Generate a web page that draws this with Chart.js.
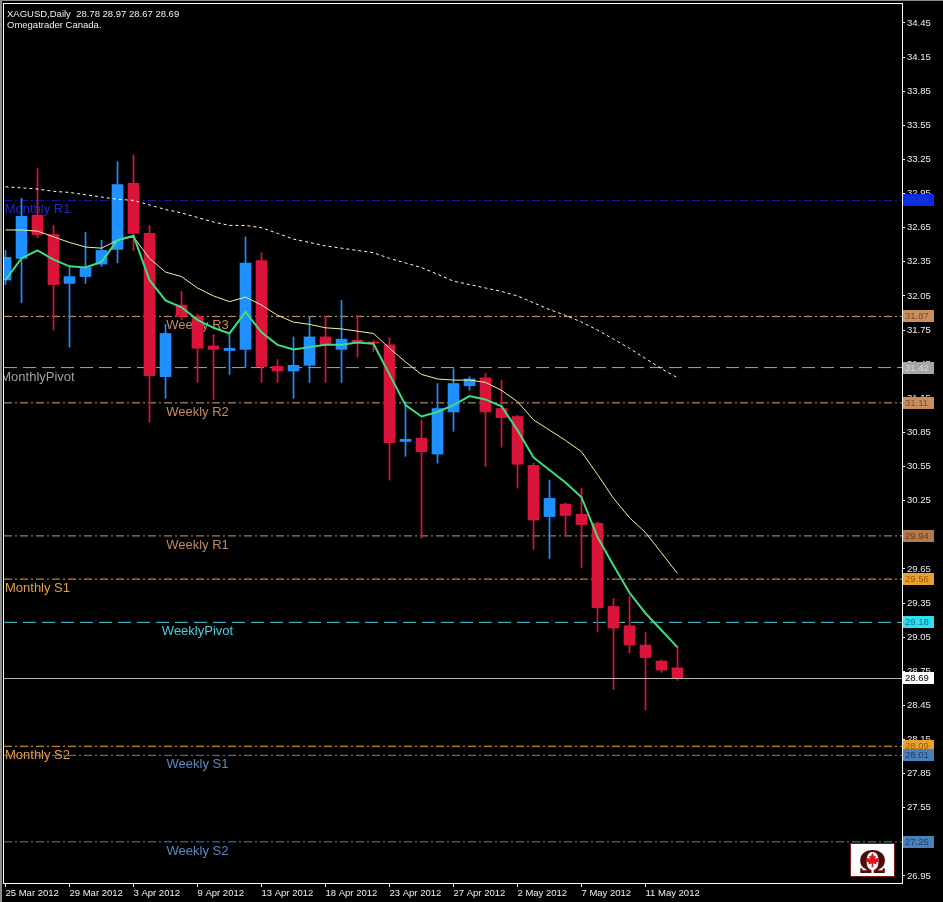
<!DOCTYPE html>
<html>
<head>
<meta charset="utf-8">
<title>XAGUSD Daily</title>
<script src="https://cdn.jsdelivr.net/npm/chart.js@4.4.1/dist/chart.umd.min.js"></script>
<style>
    html, body { margin: 0; padding: 0; background: #000; }
    #wrap { width: 943px; height: 902px; }
</style>
</head>
<body>
<div id="wrap"><canvas id="silverChart" width="943" height="902"></canvas></div>
<script>
// ===== DATA =====
const candleDates = [
    '25 Mar 2012', '26 Mar 2012', '27 Mar 2012', '28 Mar 2012', '29 Mar 2012', '30 Mar 2012',
    '1 Apr 2012', '2 Apr 2012', '3 Apr 2012', '4 Apr 2012', '5 Apr 2012', '8 Apr 2012',
    '9 Apr 2012', '10 Apr 2012', '11 Apr 2012', '12 Apr 2012', '13 Apr 2012', '15 Apr 2012',
    '16 Apr 2012', '17 Apr 2012', '18 Apr 2012', '19 Apr 2012', '20 Apr 2012', '22 Apr 2012',
    '23 Apr 2012', '24 Apr 2012', '25 Apr 2012', '26 Apr 2012', '27 Apr 2012', '29 Apr 2012',
    '30 Apr 2012', '1 May 2012', '2 May 2012', '3 May 2012', '4 May 2012', '6 May 2012',
    '7 May 2012', '8 May 2012', '9 May 2012', '10 May 2012', '11 May 2012', '13 May 2012',
    '14 May 2012'
];

const opens = [
    32.19, 32.38, 32.76, 32.59, 32.16, 32.22, 32.33, 32.46, 33.04, 32.60, 31.34,
    31.97, 31.87, 31.61, 31.57, 31.58, 32.36, 31.43, 31.39, 31.44, 31.69, 31.58,
    31.66, 31.645, 31.62, 30.77, 30.80, 30.66, 31.03, 31.26, 31.33, 31.06, 30.99,
    30.56, 30.11, 30.22, 30.13, 30.05, 29.32, 29.15, 28.98, 28.84, 28.78
];
const highs = [
    32.45, 32.91, 33.17, 32.67, 32.30, 32.61, 32.54, 33.23, 33.29, 32.67, 31.80,
    32.09, 31.89, 31.71, 31.71, 32.57, 32.43, 31.49, 31.69, 31.87, 31.87, 32.01,
    31.88, 31.66, 31.68, 31.12, 30.96, 31.28, 31.41, 31.34, 31.37, 31.31, 31.00,
    30.58, 30.43, 30.23, 30.36, 30.06, 29.39, 29.41, 29.09, 28.85, 28.97
];
const lows = [
    32.15, 31.99, 32.56, 31.75, 31.60, 32.16, 32.31, 32.34, 32.45, 30.94, 31.15,
    31.84, 31.29, 31.14, 31.36, 31.42, 31.29, 31.29, 31.15, 31.29, 31.29, 31.29,
    31.51, 31.56, 30.43, 30.64, 29.92, 30.58, 30.86, 31.22, 30.55, 30.72, 30.36,
    29.82, 29.74, 29.94, 29.66, 29.10, 28.59, 28.91, 28.41, 28.74, 28.67
];
const closes = [
    32.39, 32.75, 32.59, 32.15, 32.22, 32.30, 32.45, 33.03, 32.60, 31.35, 31.72,
    31.87, 31.59, 31.58, 31.59, 32.34, 31.43, 31.39, 31.44, 31.69, 31.62, 31.67,
    31.64, 31.635, 30.76, 30.79, 30.68, 31.06, 31.28, 31.32, 31.03, 30.98, 30.57,
    30.08, 30.27, 30.12, 30.04, 29.31, 29.13, 28.98, 28.87, 28.76, 28.69
];

// moving averages (green fast, yellow mid, white dotted slow)
const fastMa = [
    32.19, 32.38, 32.45, 32.37, 32.31, 32.30, 32.35, 32.54, 32.58, 32.19, 32.01,
    31.95, 31.84, 31.77, 31.72, 31.91, 31.73, 31.62, 31.58, 31.60, 31.62, 31.62,
    31.64, 31.63, 31.36, 31.09, 30.99, 31.03, 31.09, 31.17, 31.14, 31.08, 30.87,
    30.63, 30.52, 30.41, 30.28, 29.93, 29.68, 29.44, 29.26, 29.11, 28.96
];
const midMa = [
    32.63, 32.63, 32.62, 32.57, 32.52, 32.48, 32.47, 32.54, 32.57, 32.38, 32.26,
    32.22, 32.12, 32.05, 32.00, 32.04, 31.97, 31.88, 31.82, 31.80, 31.77, 31.76,
    31.74, 31.72, 31.59, 31.47, 31.36, 31.32, 31.31, 31.31, 31.29, 31.22, 31.12,
    30.96, 30.87, 30.78, 30.68, 30.48, 30.27, 30.10, 29.97, 29.79, 29.61
];
const slowMa = [
    33.01, 33.00, 32.99, 32.97, 32.96, 32.94, 32.92, 32.90, 32.89, 32.85, 32.81,
    32.78, 32.74, 32.70, 32.67, 32.67, 32.65, 32.60, 32.55, 32.52, 32.49, 32.47,
    32.45, 32.43, 32.38, 32.34, 32.30, 32.24, 32.18, 32.15, 32.12, 32.09, 32.05,
    31.99, 31.93, 31.88, 31.82, 31.75, 31.67, 31.59, 31.50, 31.41, 31.33
];

// pivot levels
const levelNames = ['Monthly R1', 'Weekly R3', 'MonthlyPivot', 'Weekly R2', 'Weekly R1',
    'Monthly S1', 'WeeklyPivot', 'Monthly S2', 'Weekly S1', 'Weekly S2'];
const levelPrices = [32.89, 31.87, 31.42, 31.11, 29.94, 29.56, 29.18, 28.09, 28.01, 27.25];

const lastPrice = 28.69;

// axis labels
const dateTickIdx = [0, 4, 8, 12, 16, 20, 24, 28, 32, 36, 40];
const priceTicks = [26.95, 27.25, 27.55, 27.85, 28.15, 28.45, 28.75, 29.05, 29.35, 29.65,
    29.95, 30.25, 30.55, 30.85, 31.15, 31.45, 31.75, 32.05, 32.35, 32.65, 32.95, 33.25,
    33.55, 33.85, 34.15, 34.45];

// ===== STYLES =====
const bullColor = '#1e90ff';
const bearColor = '#dc143c';
const dashDot = [8, 3, 2, 3];
const longDash = [13, 6];

const levelStyle = {
    'Monthly R1':   { line: '#1616b8', label: '#2028c4', tag: '#0c2ae6', tagText: '#1a3cc8', dash: dashDot, at: 2 },
    'Weekly R3':    { line: '#c9a07c', label: '#c28a60', tag: '#c88e5e', tagText: '#8a4a20', dash: dashDot, at: 12 },
    'MonthlyPivot': { line: '#a8a8a8', label: '#a0a0a0', tag: '#a6a6a6', tagText: '#d8d8d8', dash: longDash, at: 2 },
    'Weekly R2':    { line: '#c9a07c', label: '#c28a60', tag: '#c88e5e', tagText: '#8a4a20', dash: dashDot, at: 12 },
    'Weekly R1':    { line: '#c9a07c', label: '#c28a60', tag: '#b27a50', tagText: '#6a3a18', dash: dashDot, at: 12 },
    'Monthly S1':   { line: '#e8a040', label: '#e8a040', tag: '#e8a030', tagText: '#9a5a00', dash: dashDot, at: 2 },
    'WeeklyPivot':  { line: '#48d0e0', label: '#48d0e0', tag: '#30e0f0', tagText: '#007c8c', dash: longDash, at: 12 },
    'Monthly S2':   { line: '#e8a040', label: '#e8a040', tag: '#e8a030', tagText: '#9a5a00', dash: dashDot, at: 2 },
    'Weekly S1':    { line: '#5080b0', label: '#5a88c0', tag: '#4a80b8', tagText: '#1e3e6e', dash: dashDot, at: 12 },
    'Weekly S2':    { line: '#5080b0', label: '#5a88c0', tag: '#4a80b8', tagText: '#1e3e6e', dash: dashDot, at: 12 }
};

const xMin = -0.09375;
const xMax = 56.03125;
const yMin = 26.888;
const yMax = 34.617;
const uiFont = '"Liberation Sans", Arial, sans-serif';

const candleColor = c => closes[c.dataIndex] >= opens[c.dataIndex] ? bullColor : bearColor;

// level lines as two-point line datasets
const levelDatasets = levelNames.map((name, i) => ({
    type: 'line',
    data: [{ x: xMin, y: levelPrices[i] }, { x: xMax, y: levelPrices[i] }],
    borderColor: levelStyle[name].line,
    borderWidth: 1,
    borderDash: levelStyle[name].dash,
    pointRadius: 0,
    order: 5
}));

// ===== PLUGINS =====
const mtBackground = {
    id: 'mtBackground',
    beforeDraw(chart) {
        const { ctx, width, height } = chart;
        ctx.save();
        ctx.fillStyle = '#000';
        ctx.fillRect(0, 0, width, height);
        ctx.fillStyle = '#8c8c8c';
        ctx.fillRect(0, 0, width, 1);
        ctx.fillRect(0, 0, 2, height);
        ctx.restore();
    }
};

// pivot names sit under their line, behind the candles
const levelLabels = {
    id: 'levelLabels',
    beforeDatasetsDraw(chart) {
        const { ctx, chartArea } = chart;
        const xs = chart.scales.x, ys = chart.scales.y;
        ctx.save();
        ctx.beginPath();
        ctx.rect(chartArea.left, chartArea.top, chartArea.width, chartArea.height);
        ctx.clip();
        ctx.font = '13px ' + uiFont;
        ctx.textAlign = 'center';
        ctx.textBaseline = 'top';
        levelNames.forEach((name, i) => {
            const st = levelStyle[name];
            ctx.fillStyle = st.label;
            ctx.fillText(name, xs.getPixelForValue(st.at), ys.getPixelForValue(levelPrices[i]) + 3);
        });
        ctx.restore();
    }
};

function drawTag(ctx, ys, price, fill, textColor, left) {
    const y = Math.round(ys.getPixelForValue(price));
    ctx.fillStyle = fill;
    ctx.fillRect(left + 1, y - 6, 31, 12);
    ctx.fillStyle = textColor;
    ctx.fillText(price.toFixed(2), left + 3, y + 0.5);
}

const mtOverlay = {
    id: 'mtOverlay',
    afterDraw(chart) {
        const { ctx, chartArea } = chart;
        const ys = chart.scales.y;
        const last = closes.length - 1;
        ctx.save();

        // header
        ctx.fillStyle = '#f0f0f0';
        ctx.font = '9.5px ' + uiFont;
        ctx.textAlign = 'left';
        ctx.textBaseline = 'alphabetic';
        ctx.fillText('XAGUSD,Daily  ' + [opens[last], highs[last], lows[last], closes[last]]
            .map(v => v.toFixed(2)).join(' '), 7, 17);
        ctx.fillText('Omegatrader Canada.', 7, 28);

        // current price line
        ctx.save();
        ctx.beginPath();
        ctx.rect(chartArea.left, chartArea.top, chartArea.width, chartArea.height);
        ctx.clip();
        const yLast = Math.round(ys.getPixelForValue(lastPrice)) + 0.5;
        ctx.strokeStyle = '#b4b4b4';
        ctx.lineWidth = 1;
        ctx.beginPath();
        ctx.moveTo(chartArea.left, yLast);
        ctx.lineTo(chartArea.right, yLast);
        ctx.stroke();
        ctx.restore();

        // price tags on the right axis
        ctx.font = '9.5px ' + uiFont;
        ctx.textBaseline = 'middle';
        levelNames.forEach((name, i) => {
            const st = levelStyle[name];
            drawTag(ctx, ys, levelPrices[i], st.tag, st.tagText, chartArea.right);
        });
        drawTag(ctx, ys, lastPrice, '#ffffff', '#000000', chartArea.right);

        // logo
        const lx = chartArea.right - 52, ly = chartArea.bottom - 40;
        ctx.fillStyle = '#ffffff';
        ctx.fillRect(lx, ly, 45, 34);
        ctx.strokeStyle = '#7a1a1a';
        ctx.strokeRect(lx + 0.5, ly + 0.5, 44, 33);
        ctx.fillStyle = '#4a0c0c';
        ctx.font = 'bold 31px "DejaVu Serif", serif';
        ctx.textAlign = 'center';
        ctx.textBaseline = 'alphabetic';
        ctx.fillText('\u03A9', lx + 22.5, ly + 30);
        const leaf = [[0, -8], [2, -4], [4, -5], [3, -1], [7, -3], [6, 0], [8, 1], [4, 3], [5, 5],
            [1, 4], [1, 8], [-1, 8], [-1, 4], [-5, 5], [-4, 3], [-8, 1], [-6, 0], [-7, -3],
            [-3, -1], [-4, -5], [-2, -4]];
        ctx.fillStyle = '#e01020';
        ctx.beginPath();
        leaf.forEach(([px, py], k) => {
            const fx = lx + 22.5 + px * 0.9, fy = ly + 17 + py * 0.9;
            if (k === 0) ctx.moveTo(fx, fy); else ctx.lineTo(fx, fy);
        });
        ctx.closePath();
        ctx.fill();

        // chart frame
        ctx.strokeStyle = '#ffffff';
        ctx.lineWidth = 1;
        ctx.strokeRect(chartArea.left - 0.5, chartArea.top - 0.5, chartArea.width + 1, chartArea.height + 1);
        ctx.restore();
    }
};

// ===== CHART =====
const ctx = document.getElementById('silverChart').getContext('2d');

new Chart(ctx, {
    type: 'bar',
    data: {
        datasets: [
            ...levelDatasets,
            {
                // wicks
                type: 'bar',
                data: candleDates.map((d, i) => ({ x: i, y: [lows[i], highs[i]] })),
                backgroundColor: candleColor,
                barThickness: 1,
                grouped: false,
                order: 3
            },
            {
                // bodies
                type: 'bar',
                data: candleDates.map((d, i) => ({ x: i, y: [opens[i], closes[i]] })),
                backgroundColor: candleColor,
                barThickness: 11,
                minBarLength: 1,
                grouped: false,
                order: 2
            },
            {
                type: 'line',
                data: candleDates.map((d, i) => ({ x: i, y: slowMa[i] })),
                borderColor: '#ffffff',
                borderWidth: 1,
                borderDash: [3, 3],
                pointRadius: 0,
                order: 1
            },
            {
                type: 'line',
                data: candleDates.map((d, i) => ({ x: i, y: midMa[i] })),
                borderColor: '#f4f0a0',
                borderWidth: 1,
                pointRadius: 0,
                order: 1
            },
            {
                type: 'line',
                data: candleDates.map((d, i) => ({ x: i, y: fastMa[i] })),
                borderColor: '#3ede7e',
                borderWidth: 2,
                pointRadius: 0,
                order: 0
            }
        ]
    },
    options: {
        responsive: false,
        devicePixelRatio: 1,
        animation: false,
        layout: { padding: { left: 4, top: 4, right: 0, bottom: 0 } },
        plugins: {
            legend: { display: false },
            title: { display: false },
            tooltip: { enabled: false }
        },
        scales: {
            x: {
                type: 'linear',
                min: xMin,
                max: xMax,
                offset: false,
                afterBuildTicks: axis => { axis.ticks = dateTickIdx.map(v => ({ value: v })); },
                afterFit: axis => {
                    axis.height = 19;
                    axis.paddingLeft = 0;
                    axis.paddingRight = 0;
                },
                grid: { display: true, offset: false, drawOnChartArea: false, drawTicks: true, tickLength: 4, color: '#ffffff' },
                border: { display: false },
                ticks: {
                    autoSkip: false,
                    maxRotation: 0,
                    align: 'start',
                    padding: 1,
                    color: '#eeeeee',
                    font: { family: uiFont, size: 9.5 },
                    callback: v => candleDates[v]
                }
            },
            y: {
                position: 'right',
                min: yMin,
                max: yMax,
                afterBuildTicks: axis => { axis.ticks = priceTicks.map(v => ({ value: v })); },
                afterFit: axis => {
                    axis.width = 41;
                    axis.paddingTop = 0;
                    axis.paddingBottom = 0;
                },
                grid: { display: true, drawOnChartArea: false, drawTicks: true, tickLength: 3, color: '#ffffff' },
                border: { display: false },
                ticks: {
                    autoSkip: false,
                    padding: 2,
                    color: '#eeeeee',
                    font: { family: uiFont, size: 9.5 },
                    callback: v => v.toFixed(2)
                }
            }
        }
    },
    plugins: [mtBackground, levelLabels, mtOverlay]
});
</script>
</body>
</html>
